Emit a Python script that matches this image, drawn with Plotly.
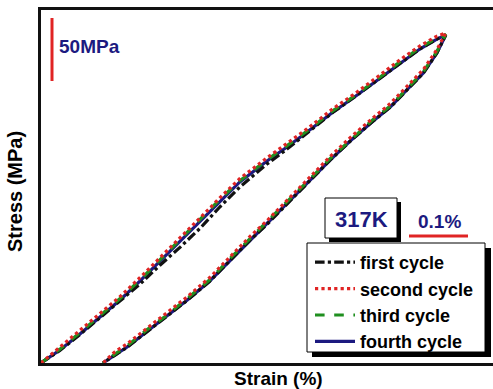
import plotly.graph_objects as go

# ---------------- data (strain in %, stress in MPa) ----------------
strain_pct = [0, 0.032, 0.066, 0.100, 0.134, 0.168, 0.202, 0.236, 0.270, 0.303,
              0.337, 0.383, 0.417, 0.451, 0.495, 0.529, 0.575, 0.609, 0.642, 0.671,
              0.686, 0.671, 0.648, 0.620, 0.592, 0.563, 0.524, 0.490, 0.456, 0.422,
              0.383, 0.354, 0.320, 0.286, 0.248, 0.214, 0.180, 0.146, 0.125, 0.105]

stress_first = [0, 10.0, 22.6, 35.8, 48.9, 62.7, 77.8, 92.0, 107.1, 123.8,
                139.7, 157.9, 169.8, 182.5, 199.0, 210.3, 226.2, 238.1, 249.2, 257.1,
                260.3, 246.0, 230.0, 216.5, 203.0, 192.0, 176.0, 161.0, 145.0, 129.2,
                110.0, 97.4, 81.5, 64.9, 49.8, 37.1, 25.2, 12.5, 6.1, 0]

stress_second = [0, 12.6, 25.7, 39.2, 52.7, 67.9, 83.5, 99.4, 115.3, 131.0,
                 146.4, 162.8, 174.1, 185.8, 201.9, 212.8, 228.7, 240.8, 251.6, 259.4,
                 261.9, 248.7, 232.9, 219.3, 205.9, 194.6, 178.9, 163.8, 147.8, 132.1,
                 112.9, 100.3, 84.2, 67.8, 52.6, 40.0, 28.0, 15.2, 8.8, 0]

stress_third = [0, 11.0, 24.1, 37.4, 51.2, 66.0, 82.1, 97.9, 113.5, 129.8,
                144.6, 161.2, 172.5, 184.1, 200.3, 211.2, 227.0, 239.3, 250.1, 258.0,
                260.8, 247.2, 231.1, 217.9, 204.0, 193.3, 177.0, 162.2, 146.1, 130.3,
                111.5, 98.4, 82.8, 66.0, 51.1, 38.2, 26.5, 13.6, 7.0, 0]

stress_fourth = [0, 10.3, 23.0, 36.5, 50.0, 65.1, 81.0, 96.8, 112.7, 128.6,
                 143.7, 160.3, 171.4, 183.3, 199.2, 210.3, 226.2, 238.1, 249.2, 257.1,
                 260.3, 246.0, 230.2, 216.7, 203.2, 192.1, 176.2, 161.1, 145.2, 129.4,
                 110.3, 97.6, 81.7, 65.1, 50.0, 37.3, 25.4, 12.7, 6.3, 0]

cycle_names = ["first cycle", "second cycle", "third cycle", "fourth cycle"]
temperature_label = "317K"
stress_bar_label = "50MPa"
strain_bar_label = "0.1%"
x_title = "Strain (%)"
y_title = "Stress (MPa)"

# ---------------- layout helpers ----------------
W, H = 493, 389
ML, MR, MT, MB = 41, 0, 10, 26
PW, PH = W - ML - MR, H - MT - MB
NAVY = "#1c1a80"
RED = "#e02424"
GREEN = "#1f8f1f"
FONT = "Liberation Sans, Arial, sans-serif"


def px(x):
    return (x - ML) / PW


def py(y):
    return (H - MB - y) / PH


fig = go.Figure()

# draw order: fourth under, then first, third, second on top
traces = [
    (stress_fourth, cycle_names[3], dict(color=NAVY, width=3.2, dash="solid"), 4),
    (stress_first, cycle_names[0], dict(color="#111111", width=3.2, dash="dashdot"), 1),
    (stress_third, cycle_names[2], dict(color=GREEN, width=3.2, dash="dash"), 3),
    (stress_second, cycle_names[1], dict(color=RED, width=3.2, dash="dot"), 2),
]
for ys, name, line, rank in traces:
    fig.add_trace(go.Scatter(x=strain_pct, y=ys, mode="lines", name=name,
                             line=line, legendrank=rank))

shapes = []
# legend box + shadow
shapes.append(dict(type="rect", xref="paper", yref="paper",
                   x0=px(312), x1=px(491), y0=py(357), y1=py(248),
                   fillcolor="black", line=dict(width=0), layer="above"))
shapes.append(dict(type="rect", xref="paper", yref="paper",
                   x0=px(307), x1=px(485), y0=py(352), y1=py(243),
                   fillcolor="white", line=dict(color="black", width=1), layer="above"))
# temperature box + shadow
shapes.append(dict(type="rect", xref="paper", yref="paper",
                   x0=px(329), x1=px(401), y0=py(242), y1=py(202),
                   fillcolor="black", line=dict(width=0), layer="above"))
shapes.append(dict(type="rect", xref="paper", yref="paper",
                   x0=px(325), x1=px(397), y0=py(238), y1=py(198),
                   fillcolor="white", line=dict(color="black", width=1), layer="above"))
# scale bars
shapes.append(dict(type="line", xref="paper", yref="paper",
                   x0=px(52), x1=px(52), y0=py(81), y1=py(18),
                   line=dict(color=RED, width=3), layer="above"))
shapes.append(dict(type="line", xref="paper", yref="paper",
                   x0=px(409), x1=px(468), y0=py(236), y1=py(236),
                   line=dict(color=RED, width=3), layer="above"))

annotations = [
    dict(text=stress_bar_label, x=px(57), y=py(47), xanchor="left", yanchor="middle",
         font=dict(family=FONT, size=19, color=NAVY, weight="bold")),
    dict(text=temperature_label, x=px(361), y=py(219), xanchor="center", yanchor="middle",
         font=dict(family=FONT, size=22, color=NAVY, weight="bold")),
    dict(text=strain_bar_label, x=px(439), y=py(221), xanchor="center", yanchor="middle",
         font=dict(family=FONT, size=19, color=NAVY, weight="bold")),
    dict(text=y_title, x=px(15), y=py(192), xanchor="center", yanchor="middle",
         textangle=-90, font=dict(family=FONT, size=20, color="black", weight="bold")),
    dict(text=x_title, x=px(278), y=py(379), xanchor="center", yanchor="middle",
         font=dict(family=FONT, size=19, color="black", weight="bold")),
]
for a in annotations:
    a.update(xref="paper", yref="paper", showarrow=False)

fig.update_layout(
    width=W, height=H,
    margin=dict(l=ML, r=MR, t=MT, b=MB),
    paper_bgcolor="white", plot_bgcolor="white",
    shapes=shapes, annotations=annotations,
    showlegend=True,
    legend=dict(x=px(310), y=py(244), xanchor="left", yanchor="top",
                bgcolor="rgba(0,0,0,0)", borderwidth=0,
                font=dict(family=FONT, size=18, color="black", weight="bold"),
                itemwidth=40, tracegroupgap=0),
    xaxis=dict(range=[0, PW / 590], showgrid=False, zeroline=False,
               showticklabels=False, ticks="", showline=True, mirror=True,
               linecolor="#111111", linewidth=2.5),
    yaxis=dict(range=[0, PH / 1.26], showgrid=False, zeroline=False,
               showticklabels=False, ticks="", showline=True, mirror=False,
               linecolor="#111111", linewidth=2.5),
)

fig.write_html("out.html")
